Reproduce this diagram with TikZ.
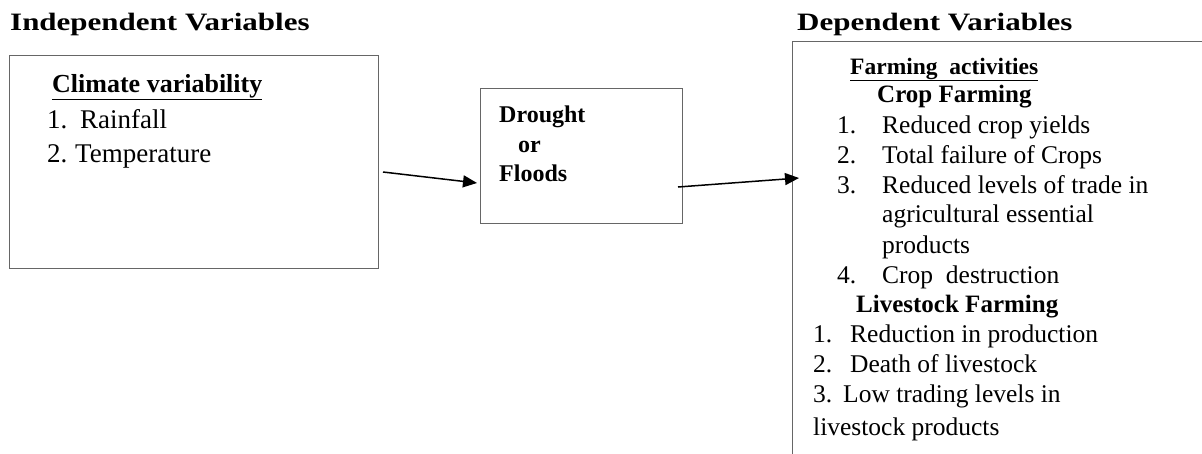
\documentclass[tikz,border=0pt]{standalone}
\usepackage{fontspec}
\usepackage{graphicx}
\setmainfont{Liberation Serif}
\usetikzlibrary{arrows.meta}
\begin{document}
\begin{tikzpicture}[x=1pt,y=-1pt,
  box/.style={draw=black!60, line width=1.3pt, inner sep=0pt, anchor=north west},
  conn/.style={-{Triangle[length=14pt,width=12pt]}, line width=1.5pt},
  txt/.style={anchor=base west, inner sep=0pt, font=\fontsize{25.5}{30}\selectfont},
  ltxt/.style={anchor=base west, inner sep=0pt, font=\fontsize{27}{30}\selectfont},
  ttl/.style={anchor=base west, inner sep=0pt, font=\fontsize{25}{30}\selectfont\bfseries},
  hd/.style={anchor=base west, inner sep=0pt, font=\fontsize{25}{30}\selectfont\bfseries},
  mid/.style={anchor=base west, inner sep=0pt, font=\fontsize{24}{30}\selectfont\bfseries},
  ]
\clip (0,0) rectangle (1202,453);
\fill[white] (0,0) rectangle (1202,453);

% titles
\node[ttl] (t1) at (10,30) {\scalebox{1.24}[1]{Independent Variables}};
\node[ttl] (t2) at (797,30) {\scalebox{1.24}[1]{Dependent Variables}};

% boxes
\node[box, minimum width=369pt, minimum height=213pt] (indep) at (9,55) {};
\node[box, minimum width=202pt, minimum height=135pt] (event) at (480,88) {};
\node[box, minimum width=500pt, minimum height=500pt] (dep) at (792,41) {};

% left box text
\node[hd, font=\fontsize{26}{30}\selectfont\bfseries] (cv) at (52,92) {\underline{Climate variability}};
\node[ltxt] (l1) at (47,128) {\makebox[33pt][l]{1.}Rainfall};
\node[ltxt] (l2) at (47,162) {\makebox[28pt][l]{2.}Temperature};

% middle box text
\node[mid] (m1) at (499,122) {Drought};
\node[mid] (m2) at (518,152) {or};
\node[mid] (m3) at (499,181) {Floods};

% right box text
\node[hd, font=\fontsize{23.5}{30}\selectfont\bfseries] (fa) at (850,74) {\underline{Farming\ \ activities}};
\node[hd] (cf) at (877,102) {Crop Farming};
\node[txt] (c1) at (837,133) {\makebox[45pt][l]{1.}Reduced crop yields};
\node[txt] (c2) at (837,163) {\makebox[45pt][l]{2.}Total failure of Crops};
\node[txt] (c3) at (837,193) {\makebox[45pt][l]{3.}Reduced levels of trade in};
\node[txt] (c3b) at (882,222) {agricultural essential};
\node[txt] (c3c) at (882,253) {products};
\node[txt] (c4) at (837,283) {\makebox[45pt][l]{4.}Crop\ \ destruction};
\node[hd] (lf) at (856,312) {Livestock Farming};
\node[txt] (v1) at (813,342) {\makebox[37pt][l]{1.}Reduction in production};
\node[txt] (v2) at (813,372) {\makebox[37pt][l]{2.}Death of livestock};
\node[txt] (v3) at (813,402) {\makebox[30pt][l]{3.}Low trading levels in};
\node[txt] (v3b) at (813,435) {livestock products};

% connectors
\coordinate (a1s) at (383,172);
\coordinate (a1e) at (477,183);
\coordinate (a2s) at (678,187);
\coordinate (a2e) at (799,178);
\draw[conn] (a1s) -- (a1e);
\draw[conn] (a2s) -- (a2e);
\end{tikzpicture}
\end{document}
